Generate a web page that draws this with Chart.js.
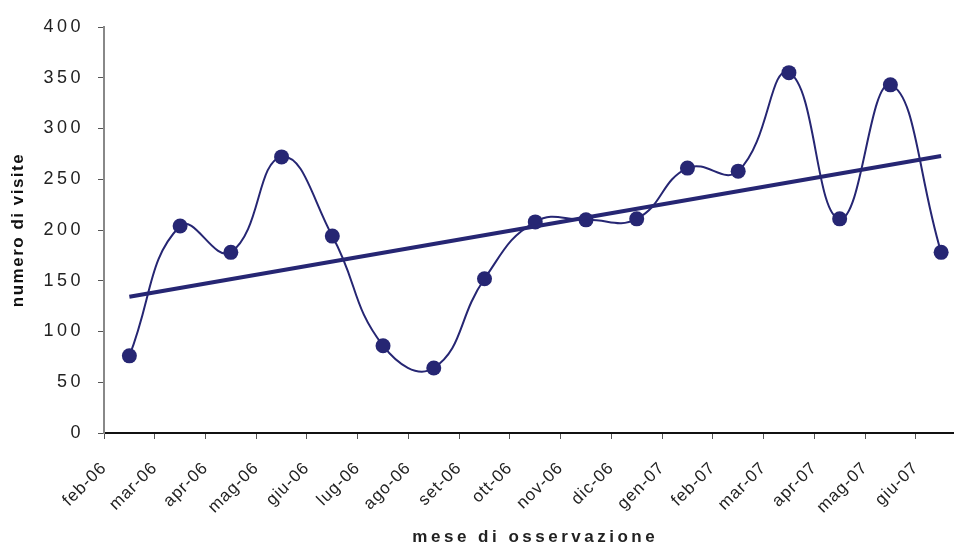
<!DOCTYPE html>
<html>
<head>
<meta charset="utf-8">
<script src="https://cdn.jsdelivr.net/npm/chart.js@4/dist/chart.umd.min.js"></script>
<style>
  html, body { margin: 0; padding: 0; background: #fff; overflow: hidden; width: 954px; height: 545px; }
  #wrap { width: 954px; height: 545px; overflow: hidden; position: relative; }
  #c { position: absolute; left: 0; top: 0; }
</style>
</head>
<body>
<div id="wrap"><canvas id="c" width="974" height="545"></canvas></div>
<script>
// Monthly visit counts, Feb 2006 – Jun 2007
const months = ['feb-06','mar-06','apr-06','mag-06','giu-06','lug-06','ago-06','set-06',
                'ott-06','nov-06','dic-06','gen-07','feb-07','mar-07','apr-07','mag-07','giu-07'];
const visits = [76, 204, 178, 272, 194, 86, 64, 152, 208, 210, 211, 261, 258, 355, 211, 343, 178];
const yTicks = { min: 0, max: 400, step: 50 };

const navy = '#262673';

// Each month sits in the middle of its slot; slot boundaries carry the month labels.
const points = visits.map((v, i) => ({ x: i + 0.5, y: v }));

// Least-squares linear trend over the months
const n = visits.length;
const xm = (n - 1) / 2;
const ym = visits.reduce((a, b) => a + b, 0) / n;
let sxy = 0, sxx = 0;
visits.forEach((v, i) => { sxy += (i - xm) * (v - ym); sxx += (i - xm) * (i - xm); });
const slope = sxy / sxx;
const trend = [
  { x: 0.5, y: ym + slope * (0 - xm) },
  { x: n - 0.5, y: ym + slope * (n - 1 - xm) }
];

// Letter spacing for axis text (canvas letterSpacing)
const spacing = {
  id: 'spacing',
  afterUpdate(chart) {
    const wrap = (scale, fn, sp) => {
      if (!scale || scale['_sp_' + fn]) return;
      const orig = scale[fn];
      scale[fn] = function (...args) {
        const ctx = this.ctx;
        const prev = ctx.letterSpacing;
        ctx.letterSpacing = sp;
        orig.apply(this, args);
        ctx.letterSpacing = prev;
      };
      scale['_sp_' + fn] = true;
    };
    wrap(chart.scales.y, 'drawLabels', '3.5px');
    wrap(chart.scales.y, 'drawTitle', '1.5px');
    wrap(chart.scales.x, 'drawLabels', '1px');
    wrap(chart.scales.x, 'drawTitle', '3.5px');
  }
};

new Chart(document.getElementById('c'), {
  type: 'line',
  data: {
    datasets: [
      {
        label: 'visite',
        data: points,
        borderColor: navy,
        backgroundColor: navy,
        borderWidth: 2,
        tension: 0.45,
        pointRadius: 7.5,
        pointHoverRadius: 7.5,
        pointBackgroundColor: navy,
        pointBorderWidth: 0,
        order: 1
      },
      {
        label: 'tendenza',
        data: trend,
        borderColor: navy,
        borderWidth: 4,
        pointRadius: 0,
        tension: 0,
        order: 0
      }
    ]
  },
  options: {
    responsive: false,
    animation: false,
    devicePixelRatio: 1,
    layout: { padding: { top: 27, right: 3, left: 0, bottom: 0 } },
    plugins: { legend: { display: false }, tooltip: { enabled: false } },
    scales: {
      x: {
        type: 'linear',
        min: 0,
        max: months.length,
        afterFit(scale) {
          scale.height = 112;
          scale.paddingLeft = 0;
          scale.paddingRight = 0;
        },
        afterBuildTicks(scale) {
          scale.ticks = months.map((m, i) => ({ value: i })).concat([{ value: months.length }]);
        },
        ticks: {
          autoSkip: false,
          minRotation: 45,
          maxRotation: 45,
          padding: 19,
          color: '#222',
          font: { family: 'Liberation Sans, Arial, sans-serif', size: 17 },
          callback: (v) => months[v] ?? ''
        },
        grid: { display: true, drawOnChartArea: false, drawTicks: true, tickLength: 6, color: '#555', lineWidth: 1 },
        border: { display: true, color: '#111', width: 2 },
        title: {
          display: true,
          text: 'mese di osservazione',
          color: '#222',
          font: { family: 'Liberation Sans, Arial, sans-serif', size: 17, weight: 'bold' },
          padding: { top: 0, bottom: -3 }
        }
      },
      y: {
        min: yTicks.min,
        max: yTicks.max,
        afterFit(scale) { scale.width = 104; },
        ticks: {
          stepSize: yTicks.step,
          padding: 14,
          color: '#222',
          font: { family: 'Liberation Sans, Arial, sans-serif', size: 18 }
        },
        grid: { display: true, drawOnChartArea: false, drawTicks: true, tickLength: 6, color: '#555', lineWidth: 1 },
        border: { display: true, color: '#888', width: 2 },
        title: {
          display: true,
          text: 'numero di visite',
          color: '#111',
          font: { family: 'Liberation Sans, Arial, sans-serif', size: 17, weight: 'bold' },
          padding: { top: 8, bottom: 0 }
        }
      }
    }
  },
  plugins: [spacing]
});
</script>
</body>
</html>
